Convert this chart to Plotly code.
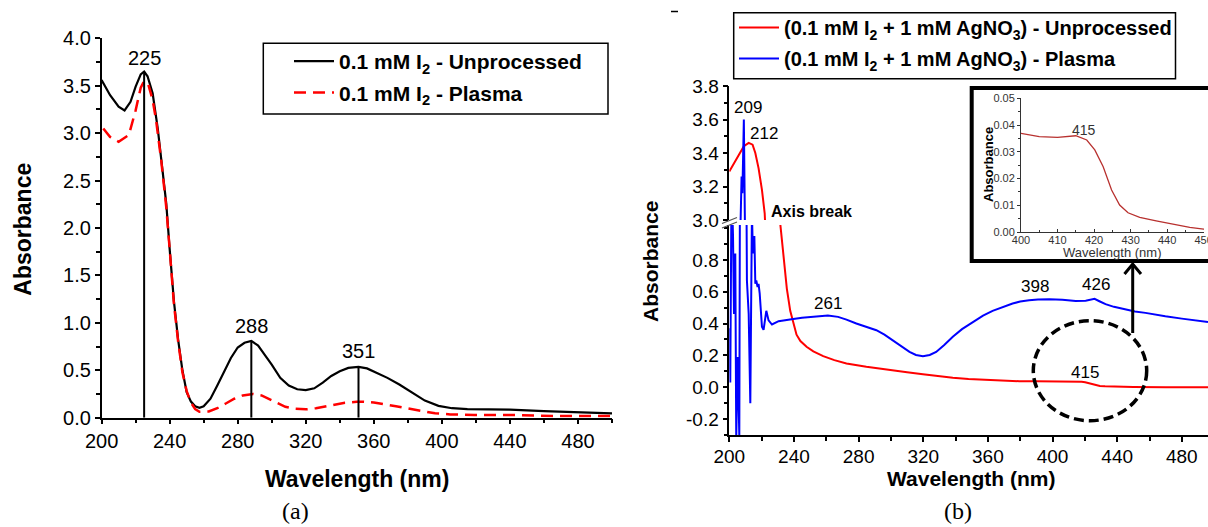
import plotly.graph_objects as go

W, H = 1208, 527
FONT = "Liberation Sans, Arial, sans-serif"
SERIF = "Liberation Serif, Times New Roman, serif"

# ---------------- (a) 0.1 mM I2 ----------------
wl_a_unproc = [200, 205, 210, 213.5, 217, 220, 223, 225, 227, 230, 233, 236, 238, 240,
               242.5, 245, 247.5, 250, 252.5, 255, 257.5, 260, 264, 268, 272, 276, 280,
               284, 288, 292, 296, 300, 305, 310, 315, 320, 325, 330, 335, 340, 345, 351,
               356, 362, 368, 375, 382, 390, 398, 406, 415, 425, 440, 460, 480, 500]
abs_a_unproc = [3.56, 3.40, 3.28, 3.24, 3.33, 3.49, 3.62, 3.65, 3.60, 3.42, 3.05, 2.56, 2.26, 1.78,
                1.23, 0.82, 0.50, 0.27, 0.17, 0.12, 0.105, 0.12, 0.20, 0.34, 0.48, 0.63, 0.74,
                0.79, 0.81, 0.76, 0.66, 0.56, 0.42, 0.34, 0.30, 0.29, 0.31, 0.37, 0.44, 0.49, 0.525, 0.535,
                0.52, 0.47, 0.42, 0.35, 0.27, 0.18, 0.125, 0.10, 0.09, 0.09, 0.085, 0.07, 0.055, 0.045]

wl_a_plasma = [201, 205, 210, 216, 220, 223, 225, 227.5, 230, 232, 235, 238, 240, 242.5, 245,
               247.5, 250, 252.5, 255, 257.5, 263, 268, 273, 278, 283, 289, 294, 298, 303,
               308, 314, 320, 326, 331, 337, 343, 350, 354, 360, 366, 373, 380, 388, 396,
               405, 419, 443, 466, 500]
abs_a_plasma = [3.05, 2.96, 2.91, 2.98, 3.24, 3.48, 3.55, 3.51, 3.35, 3.14, 2.72, 2.22, 1.78, 1.20, 0.80,
                0.48, 0.28, 0.16, 0.09, 0.063, 0.065, 0.10, 0.15, 0.20, 0.235, 0.25, 0.235, 0.20, 0.15,
                0.115, 0.095, 0.088, 0.10, 0.116, 0.14, 0.158, 0.167, 0.169, 0.16, 0.144, 0.12, 0.098, 0.07, 0.046,
                0.035, 0.028, 0.028, 0.018, 0.018]

peaks_a = [225, 288, 351]

# ---------------- (b) 0.1 mM I2 + 1 mM AgNO3 ----------------
wl_b_unproc = [200, 202.5, 204.7, 207, 209, 212, 214.4, 216.1, 218.1, 220.2, 221.9,
               231.6, 233.6, 235.6, 237.7, 239.7, 241.6, 244, 247.8, 252, 258.1, 265, 272.5,
               284.8, 299.2, 310, 319.8, 329, 338.3, 348, 358.8, 369, 379.4, 390, 400, 405,
               410, 415, 418, 420.2, 422.5, 424.8, 427, 429.3, 432.5, 437, 441.6, 446.2, 450,
               470, 496.2]
abs_b_unproc = [3.29, 3.33, 3.37, 3.41, 3.44, 3.46, 3.45, 3.40, 3.31, 3.18, 3.04,
                1.02, 0.80, 0.62, 0.48, 0.40, 0.33, 0.29, 0.254, 0.225, 0.195, 0.17, 0.149,
                0.128, 0.107, 0.094, 0.082, 0.07, 0.059, 0.051, 0.045, 0.041, 0.038, 0.037, 0.0369, 0.0357,
                0.0354, 0.036, 0.0344, 0.0307, 0.0244, 0.0157, 0.0101, 0.0072, 0.0055, 0.0042, 0.003, 0.0017, 0.0011,
                0.0005, 0.0003]

wl_b_plasma = [200.0, 200.6, 201.4, 202.3, 202.9, 203.7, 204.3, 205.2, 206.2, 207.0, 207.6,
               208.1, 209.0, 209.6, 210.9, 212.0, 213.0, 214.0, 214.6, 215.5, 216.1, 216.7,
               217.5, 218.1, 218.8, 219.6, 220.2, 221.2, 221.9, 222.9, 224.3, 226.4, 230.5,
               235, 239.6, 245, 251.9, 256, 261, 267.3, 272.5, 278.6, 285, 291, 296, 301.3,
               306, 311.5, 315.5, 319.8, 324, 328, 333, 338.3, 344, 350.6, 357, 362.9, 369,
               375.3, 380, 385.5, 391, 398, 406.1, 414.3, 420.5, 423.5, 426, 429, 432.8, 438,
               445.1, 451, 457.5, 463, 469.8, 480, 490.4, 496.2]
abs_b_plasma = [0.37, 0.03, 1.30, 0.95, 0.46, 0.84, -0.32, 0.19, -0.31, 3.00, 3.26,
                3.16, 3.60, 3.04, 0.67, 0.46, -0.10, 1.10, 0.84, 0.95, 0.65, 0.67,
                0.63, 0.65, 0.59, 0.44, 0.38, 0.36, 0.41, 0.48, 0.42, 0.394, 0.415,
                0.42, 0.428, 0.436, 0.442, 0.448, 0.451, 0.442, 0.425, 0.40, 0.38, 0.358, 0.33, 0.295,
                0.26, 0.222, 0.203, 0.195, 0.203, 0.222, 0.265, 0.317, 0.365, 0.411, 0.45, 0.48, 0.505,
                0.526, 0.538, 0.547, 0.551, 0.553, 0.550, 0.541, 0.543, 0.548, 0.555, 0.54, 0.522, 0.505,
                0.488, 0.476, 0.467, 0.456, 0.446, 0.431, 0.417, 0.41]

peaks_b_plasma = [209, 261, 398, 426]
peaks_b_unproc = [212, 415]

x_tick_step = 40
lower_ticks_b = [-0.2, 0.0, 0.2, 0.4, 0.6, 0.8]
inset_range = [400, 450.1]


def fx(px):
    return px / W


def fy(py):
    return 1 - py / H


def value_at(wl, ab, x):
    return dict(zip(wl, ab))[x]


fig = go.Figure()

# panel (a) curves
fig.add_trace(go.Scatter(x=wl_a_unproc, y=abs_a_unproc, mode="lines",
                         line=dict(color="black", width=2.2),
                         name="0.1 mM I<sub>2</sub> - Unprocessed",
                         legend="legend", legendgroup="a1", xaxis="x", yaxis="y"))
fig.add_trace(go.Scatter(x=wl_a_plasma, y=abs_a_plasma, mode="lines",
                         line=dict(color="#ff0000", width=2.5, dash="12px,7px"),
                         name="0.1 mM I<sub>2</sub> - Plasma",
                         legend="legend", legendgroup="a2", xaxis="x", yaxis="y"))
# drop lines under the labelled maxima
drop_x, drop_y = [], []
for p in peaks_a:
    drop_x += [p, p, None]
    drop_y += [0, value_at(wl_a_unproc, abs_a_unproc, p), None]
fig.add_trace(go.Scatter(x=drop_x, y=drop_y, mode="lines", line=dict(color="black", width=2),
                         showlegend=False, hoverinfo="skip", xaxis="x", yaxis="y"))

# panel (b): same series on the lower and upper part of the broken axis
for ya, show in (("y3", True), ("y4", False)):
    fig.add_trace(go.Scatter(x=wl_b_unproc, y=abs_b_unproc, mode="lines",
                             line=dict(color="#ff0000", width=2),
                             name="(0.1 mM I<sub>2</sub> + 1 mM AgNO<sub>3</sub>) - Unprocessed",
                             legend="legend2", legendgroup="b1", showlegend=show,
                             xaxis="x2", yaxis=ya))
for ya, show in (("y3", True), ("y4", False)):
    fig.add_trace(go.Scatter(x=wl_b_plasma, y=abs_b_plasma, mode="lines",
                             line=dict(color="#0000ff", width=2),
                             name="(0.1 mM I<sub>2</sub> + 1 mM AgNO<sub>3</sub>) - Plasma",
                             legend="legend2", legendgroup="b2", showlegend=show,
                             xaxis="x2", yaxis=ya))

# inset: magnified unprocessed curve around 415 nm
fig.add_trace(go.Scatter(x=wl_b_unproc, y=abs_b_unproc, mode="lines",
                         line=dict(color="#b8312f", width=1.3),
                         showlegend=False, xaxis="x3", yaxis="y5"))

tick_common = dict(showline=True, linecolor="black", linewidth=1.5, ticks="outside",
                   ticklen=5, tickwidth=1.5, tickcolor="black", showgrid=False,
                   zeroline=False)
minor_common = dict(ticks="outside", ticklen=4, tickwidth=1.5, tickcolor="black", showgrid=False)

fig.update_layout(
    width=W, height=H, template="none",
    margin=dict(l=0, r=0, t=0, b=0),
    paper_bgcolor="white", plot_bgcolor="rgba(0,0,0,0)",
    font=dict(family=FONT, color="black", size=14),
    xaxis=dict(domain=[fx(101.6), fx(612)], range=[200, 500], anchor="y",
               tickmode="linear", tick0=200, dtick=x_tick_step,
               minor=dict(dtick=x_tick_step / 2, **minor_common),
               tickfont=dict(size=20, family=FONT), **tick_common),
    yaxis=dict(domain=[fy(417.7), fy(38.3)], range=[0, 4], anchor="x",
               tickmode="linear", tick0=0, dtick=0.5, tickformat=".1f",
               minor=dict(dtick=0.25, **minor_common),
               tickfont=dict(size=20, family=FONT), **tick_common),
    xaxis2=dict(domain=[fx(729.3), 1], range=[200, 496.2], anchor="y3",
                tickmode="linear", tick0=200, dtick=x_tick_step,
                minor=dict(dtick=x_tick_step / 2, **minor_common),
                ticklabelstandoff=-2,
                tickfont=dict(size=19, family=FONT), **tick_common),
    yaxis3=dict(domain=[fy(435), fy(225)], range=[-0.3, 1.019], anchor="x2",
                tickmode="array", tickvals=lower_ticks_b,
                ticktext=[f"{v:.1f}" for v in lower_ticks_b],
                minor=dict(tickmode="linear", tick0=-0.3, dtick=0.1, **minor_common),
                tickfont=dict(size=19, family=FONT), **tick_common),
    yaxis4=dict(domain=[fy(220), fy(86)], range=[3.0, 3.8], anchor="x2",
                tickmode="linear", tick0=3.0, dtick=0.2, tickformat=".1f",
                minor=dict(dtick=0.1, **minor_common),
                tickfont=dict(size=19, family=FONT), **tick_common),
    xaxis3=dict(domain=[fx(1021), fx(1204)], range=inset_range, anchor="y5",
                tickmode="linear", tick0=400, dtick=10,
                minor=dict(dtick=5, ticks="inside", ticklen=2, tickcolor="#333"),
                showline=True, linecolor="#333", linewidth=1, ticks="inside",
                ticklen=3, tickcolor="#333", showgrid=False, zeroline=False,
                ticklabelstandoff=-2, ticklabeloverflow="allow",
                tickfont=dict(size=11, family=FONT, color="#333")),
    yaxis5=dict(domain=[fy(232), fy(98.3)], range=[0, 0.05], anchor="x3",
                tickmode="linear", tick0=0, dtick=0.01, tickformat=".2f",
                minor=dict(dtick=0.005, ticks="outside", ticklen=2, tickcolor="#333"),
                showline=True, linecolor="#333", linewidth=1, ticks="outside",
                ticklen=3, tickcolor="#333", showgrid=False, zeroline=False,
                tickfont=dict(size=11, family=FONT, color="#333")),
    legend=dict(x=fx(289), y=fy(41), xanchor="left", yanchor="top",
                bgcolor="rgba(0,0,0,0)", borderwidth=0, itemwidth=40, tracegroupgap=1,
                font=dict(family=FONT, size=21, color="black", weight="bold")),
    legend2=dict(x=fx(734), y=fy(8), xanchor="left", yanchor="top",
                 bgcolor="rgba(0,0,0,0)", borderwidth=0, itemwidth=40, tracegroupgap=2,
                 font=dict(family=FONT, size=20, color="black", weight="bold")),
    showlegend=True,
)


def pline(x0, y0, x1, y1, width=1.5, color="black", dash="solid"):
    return dict(type="line", xref="paper", yref="paper", x0=fx(x0), y0=fy(y0),
                x1=fx(x1), y1=fy(y1), line=dict(color=color, width=width, dash=dash))


shapes = [
    # legend frames
    dict(type="rect", xref="paper", yref="paper", x0=fx(263.3), y0=fy(114), x1=fx(608), y1=fy(43.3),
         line=dict(color="black", width=1.5)),
    dict(type="rect", xref="paper", yref="paper", x0=fx(733.7), y0=fy(78.7), x1=fx(1175.5), y1=fy(12.7),
         line=dict(color="black", width=1.5)),
    # inset frame
    dict(type="rect", xref="paper", yref="paper", x0=fx(971.7), y0=fy(261), x1=fx(1215), y1=fy(88),
         line=dict(color="black", width=4)),
    # dashed circle around the 415 nm shoulder
    dict(type="circle", xref="paper", yref="paper", x0=fx(1033.3), y0=fy(420.7), x1=fx(1146.7), y1=fy(320.7),
         line=dict(color="black", width=3.5, dash="10px,5px")),
    # arrow to the inset
    pline(1132.7, 333, 1132.7, 264, width=3),
    dict(type="path", xref="paper", yref="paper",
         path=f"M{fx(1124.5)},{fy(274)} L{fx(1132.7)},{fy(264)} L{fx(1141)},{fy(274)}",
         line=dict(color="black", width=3)),
    # axis-break marks
    pline(722, 223.5, 737, 217.5, width=1.2, color="#555"),
    pline(722, 228, 737, 222, width=1.2, color="#555"),
    # small stray dash above panel (b)
    pline(671, 11.5, 678, 11.5, width=1.5),
]

annotations = []


def ptext(text, px, py, size, bold=False, angle=0, family=FONT, color="black"):
    annotations.append(dict(text=text, xref="paper", yref="paper", x=fx(px), y=fy(py),
                            xanchor="center", yanchor="middle", showarrow=False, textangle=angle,
                            font=dict(family=family, size=size, color=color,
                                      weight="bold" if bold else "normal")))


ptext("Wavelength (nm)", 356.8, 479, 23, bold=True)
ptext("Absorbance", 22.7, 229, 23, bold=True, angle=-90)
ptext("Wavelength (nm)", 971, 478.5, 21, bold=True)
ptext("Absorbance", 651, 262, 21, bold=True, angle=-90)
ptext("(a)", 295.5, 511, 24, family=SERIF)
ptext("(b)", 957.6, 511, 24, family=SERIF)
ptext("Axis break", 811.2, 211.7, 16, bold=True)
ptext("Absorbance", 988, 165, 13, bold=True, angle=-90)
ptext("Wavelength (nm)", 1112, 252.5, 13, color="#333")

# peak labels, anchored on the curve values
for p, ys in zip(peaks_a, [0, 2, 3]):
    annotations.append(dict(text=str(p), x=p, y=value_at(wl_a_unproc, abs_a_unproc, p),
                            xref="x", yref="y", xanchor="center", yanchor="bottom",
                            yshift=ys, showarrow=False, font=dict(size=20, family=FONT)))

annotations.append(dict(text="209", x=209, y=value_at(wl_b_plasma, abs_b_plasma, 209.0),
                        xref="x2", yref="y4", xanchor="center", yanchor="bottom",
                        xshift=4, yshift=1, showarrow=False, font=dict(size=17, family=FONT)))
annotations.append(dict(text="212", x=212, y=value_at(wl_b_unproc, abs_b_unproc, 212),
                        xref="x2", yref="y4", xanchor="left", yanchor="bottom",
                        xshift=-1, yshift=-2, showarrow=False, font=dict(size=17, family=FONT)))
for p, xs, ys in zip(peaks_b_plasma[1:], [0, -14, 1], [0, 1, 3]):
    annotations.append(dict(text=str(p), x=p, y=value_at(wl_b_plasma, abs_b_plasma, p),
                            xref="x2", yref="y3", xanchor="center", yanchor="bottom",
                            xshift=xs, yshift=ys, showarrow=False, font=dict(size=17, family=FONT)))
annotations.append(dict(text="415", x=415, y=value_at(wl_b_unproc, abs_b_unproc, 415),
                        xref="x2", yref="y3", xanchor="center", yanchor="bottom",
                        xshift=8, yshift=-2, showarrow=False, font=dict(size=17, family=FONT)))
annotations.append(dict(text="415", x=415, y=value_at(wl_b_unproc, abs_b_unproc, 415),
                        xref="x3", yref="y5", xanchor="center", yanchor="bottom",
                        xshift=8, yshift=-4, showarrow=False,
                        font=dict(size=14, family=FONT, color="#333")))

fig.update_layout(shapes=shapes, annotations=annotations)
fig.write_html("out.html")
